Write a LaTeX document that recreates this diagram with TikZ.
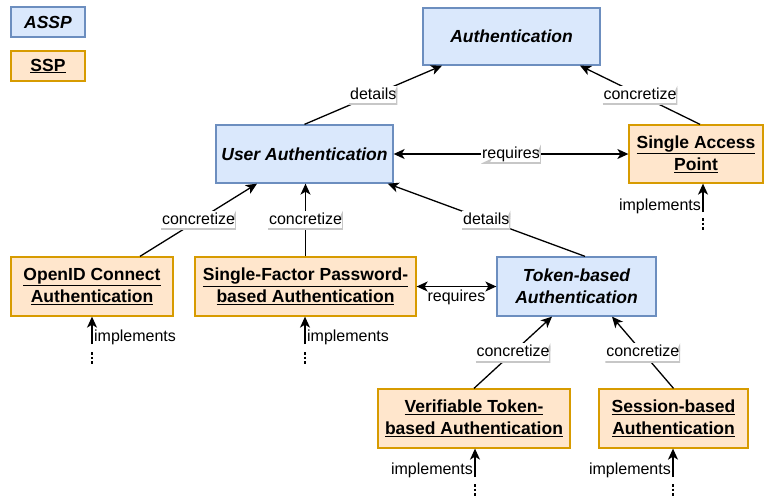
\documentclass[tikz,border=0pt]{standalone}
\usepackage{fontspec}
\setmainfont{Liberation Sans}
\usetikzlibrary{arrows.meta}
\definecolor{asspfill}{HTML}{DAE8FC}
\definecolor{asspline}{HTML}{6C8EBF}
\definecolor{sspfill}{HTML}{FFE6CC}
\definecolor{sspline}{HTML}{D79B00}
\newcommand{\boxfont}{\fontsize{17.5}{22}\selectfont}
\newcommand{\lblfont}{\fontsize{16}{19}\selectfont}
\begin{document}
\begin{tikzpicture}[x=1pt,y=-1pt,
  basebox/.style={line width=1.3pt, inner sep=0pt, align=center, text=black},
  assp/.style={basebox, draw=asspline, fill=asspfill, font=\boxfont\bfseries\itshape},
  ssp/.style={basebox, draw=sspline, fill=sspfill, font=\boxfont\bfseries},
  conn/.style={line width=1.3pt, -{Stealth[length=11pt,width=10pt,inset=3pt]}},
  biconn/.style={line width=1.3pt, {Stealth[length=11pt,width=10pt,inset=3pt]}-{Stealth[length=11pt,width=10pt,inset=3pt]}},
  elabel/.style={fill=white, inner xsep=1pt, inner ysep=1pt, text height=12.5pt, text depth=4.5pt,
    font=\lblfont, text=black,
    path picture={\draw[black!22, line width=2.2pt]
      (path picture bounding box.south west) -- (path picture bounding box.south east)
      -- (path picture bounding box.north east);}},
  implabel/.style={inner sep=1.5pt, font=\lblfont, text=black},
  dots/.style={line width=2.6pt, dash pattern=on 2.5pt off 2pt}
]
\useasboundingbox (0,0) rectangle (766,498);

% legend
\node[assp, minimum width=74pt, minimum height=30pt] (legA) at (48,22) {ASSP};
\node[ssp, minimum width=74pt, minimum height=30pt] (legS) at (48,66) {\underline{SSP}};

% patterns
\node[assp, minimum width=177pt, minimum height=57pt] (auth) at (511.5,36.5) {Authentication};
\node[assp, minimum width=177pt, minimum height=58pt] (ua) at (304.5,154) {User Authentication};
\node[ssp, minimum width=134pt, minimum height=58pt] (sap) at (696,154) {\underline{Single Access}\\\underline{Point}};
\node[ssp, minimum width=162pt, minimum height=59pt] (oid) at (92,286.5) {\underline{OpenID Connect}\\\underline{Authentication}};
\node[ssp, minimum width=221pt, minimum height=59pt] (sf) at (305.5,286.5) {\underline{Single-Factor Password-}\\\underline{based Authentication}};
\node[assp, minimum width=159pt, minimum height=59pt] (tok) at (576.5,286.5) {Token-based\\Authentication};
\node[ssp, minimum width=192pt, minimum height=59pt] (ver) at (474,418.5) {\underline{Verifiable Token-}\\\underline{based Authentication}};
\node[ssp, minimum width=149pt, minimum height=59pt] (ses) at (673.5,418.5) {\underline{Session-based}\\\underline{Authentication}};

% relations between patterns
\draw[conn] (ua.north) -- node[elabel]{details} ([xshift=-69.5pt]auth.south);
\draw[conn] ([xshift=4pt]sap.north) -- node[elabel]{concretize} ([xshift=68.5pt]auth.south);
\draw[biconn] (ua.east) -- node[elabel]{requires} (sap.west);
\draw[conn] ([xshift=48pt]oid.north) -- node[elabel]{concretize} ([xshift=-47.5pt]ua.south);
\draw[conn] (sf.north) -- node[elabel]{concretize} (sf.north |- ua.south);
\draw[conn] ([xshift=8.5pt]tok.north) -- node[elabel]{details} ([xshift=-6pt]ua.south east);
\draw[biconn] (sf.east) -- node[implabel, below=1pt]{requires} (tok.west);
\draw[conn] (ver.north) -- node[elabel]{concretize} ([xshift=-24.5pt]tok.south);
\draw[conn] (ses.north) -- node[elabel]{concretize} ([xshift=35.5pt]tok.south);

% implementations
\coordinate (oidT) at (92,344);
\coordinate (oidA) at (92,352);
\coordinate (oidB) at (92,365);
\draw[conn] (oidT) -- node[implabel, right, pos=0.25]{implements} (oidT |- oid.south);
\draw[dots] (oidA) -- (oidB);

\coordinate (sfT) at (305,344);
\coordinate (sfA) at (305,352);
\coordinate (sfB) at (305,365);
\draw[conn] (sfT) -- node[implabel, right, pos=0.25]{implements} (sfT |- sf.south);
\draw[dots] (sfA) -- (sfB);

\coordinate (sapT) at (703,212);
\coordinate (sapA) at (703,218);
\coordinate (sapB) at (703,231);
\draw[conn] (sapT) -- node[implabel, left, pos=0.2]{implements} (sapT |- sap.south);
\draw[dots] (sapA) -- (sapB);

\coordinate (verT) at (475,477);
\coordinate (verA) at (475,484);
\coordinate (verB) at (475,498);
\draw[conn] (verT) -- node[implabel, left, pos=0.25]{implements} (verT |- ver.south);
\draw[dots] (verA) -- (verB);

\coordinate (sesT) at (673,477);
\coordinate (sesA) at (673,484);
\coordinate (sesB) at (673,498);
\draw[conn] (sesT) -- node[implabel, left, pos=0.25]{implements} (sesT |- ses.south);
\draw[dots] (sesA) -- (sesB);
\end{tikzpicture}
\end{document}
